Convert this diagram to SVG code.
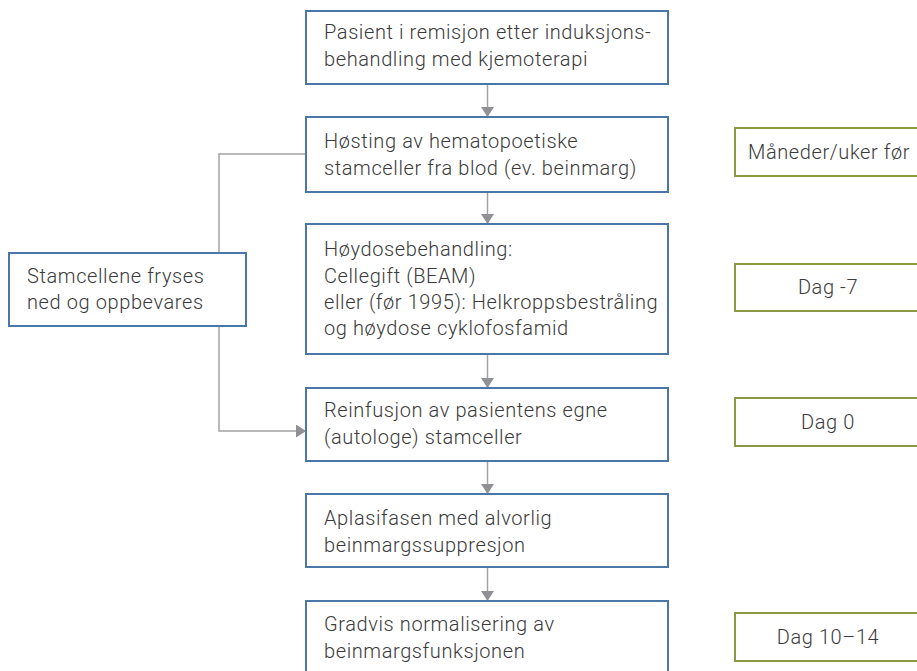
<svg xmlns="http://www.w3.org/2000/svg" width="917" height="671" viewBox="0 0 917 671">
<style>
.b{fill:#fff;stroke:#4a76a8;stroke-width:2}
.g{fill:#fff;stroke:#8a9a44;stroke-width:2}
.t{font-family:Roboto,"Liberation Sans",sans-serif;font-size:20px;font-weight:300;letter-spacing:0.6px;fill:#3a3a3a}
.c{text-anchor:middle}
.l{fill:none;stroke:#a3a3a3;stroke-width:1.5}
</style>
<defs>
<marker id="ah" markerWidth="10" markerHeight="13" refX="10" refY="6.5" orient="auto" markerUnits="userSpaceOnUse">
<path d="M0,0 L10,6.5 L0,13 Z" fill="#909195"/>
</marker>
</defs>
<g id="connectors">
<line class="l" x1="487.5" y1="84" x2="487.5" y2="117" marker-end="url(#ah)"/>
<line class="l" x1="487.5" y1="192" x2="487.5" y2="224" marker-end="url(#ah)"/>
<line class="l" x1="487.5" y1="354" x2="487.5" y2="388" marker-end="url(#ah)"/>
<line class="l" x1="487.5" y1="461" x2="487.5" y2="494" marker-end="url(#ah)"/>
<line class="l" x1="487.5" y1="567" x2="487.5" y2="601" marker-end="url(#ah)"/>
<polyline class="l" points="306,154 219,154 219,253"/>
<polyline class="l" points="219,326 219,431 306,431" marker-end="url(#ah)"/>
</g>
<g id="n1"><rect class="b" x="306" y="11" width="362" height="73"/>
<text class="t" x="324" y="39">Pasient i remisjon etter induksjons-</text>
<text class="t" x="324" y="66">behandling med kjemoterapi</text></g>
<g id="n2"><rect class="b" x="306" y="117" width="362" height="75"/>
<text class="t" x="324" y="148">Høsting av hematopoetiske</text>
<text class="t" x="324" y="175">stamceller fra blod (ev. beinmarg)</text></g>
<g id="n3"><rect class="b" x="306" y="224" width="362" height="130"/>
<text class="t" x="324" y="256">Høydosebehandling:</text>
<text class="t" x="324" y="283">Cellegift (BEAM)</text>
<text class="t" x="324" y="309">eller (før 1995): Helkroppsbestråling</text>
<text class="t" x="324" y="335">og høydose cyklofosfamid</text></g>
<g id="n4"><rect class="b" x="306" y="388" width="362" height="73"/>
<text class="t" x="324" y="417">Reinfusjon av pasientens egne</text>
<text class="t" x="324" y="444">(autologe) stamceller</text></g>
<g id="n5"><rect class="b" x="306" y="494" width="362" height="73"/>
<text class="t" x="324" y="525">Aplasifasen med alvorlig</text>
<text class="t" x="324" y="552">beinmargssuppresjon</text></g>
<g id="n6"><rect class="b" x="306" y="601" width="362" height="74"/>
<text class="t" x="324" y="631">Gradvis normalisering av</text>
<text class="t" x="324" y="658">beinmargsfunksjonen</text></g>
<g id="n7"><rect class="b" x="9" y="253" width="237" height="73"/>
<text class="t" x="27" y="283">Stamcellene fryses</text>
<text class="t" x="27" y="309">ned og oppbevares</text></g>
<g id="t1"><rect class="g" x="735" y="128" width="190" height="48"/>
<text class="t" x="748" y="159">Måneder/uker før</text></g>
<g id="t2"><rect class="g" x="735" y="264" width="190" height="47"/>
<text class="t c" x="828" y="294">Dag -7</text></g>
<g id="t3"><rect class="g" x="735" y="398" width="190" height="48"/>
<text class="t c" x="828" y="429">Dag 0</text></g>
<g id="t4"><rect class="g" x="735" y="613" width="190" height="48"/>
<text class="t c" x="828" y="644">Dag 10–14</text></g>
</svg>
